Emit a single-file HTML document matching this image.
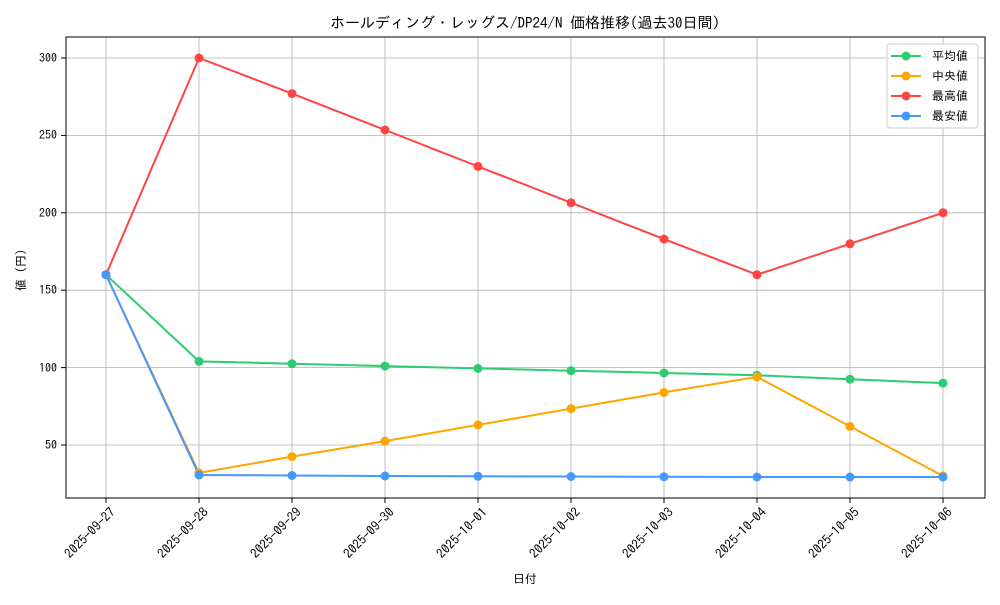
<!DOCTYPE html>
<html><head><meta charset="utf-8"><style>
body{margin:0;background:#fff}
text{font-family:"IPAGothic","Noto Sans CJK JP","Liberation Sans",sans-serif;fill:#000}
</style></head><body>
<svg width="1000" height="600" xmlns="http://www.w3.org/2000/svg">
<rect width="1000" height="600" fill="#fff"/>
<g stroke="#b0b0b0" stroke-width="0.8">
<line x1="106" y1="37" x2="106" y2="498"/><line x1="199" y1="37" x2="199" y2="498"/><line x1="292" y1="37" x2="292" y2="498"/><line x1="385" y1="37" x2="385" y2="498"/><line x1="478" y1="37" x2="478" y2="498"/><line x1="571" y1="37" x2="571" y2="498"/><line x1="664" y1="37" x2="664" y2="498"/><line x1="757" y1="37" x2="757" y2="498"/><line x1="850" y1="37" x2="850" y2="498"/><line x1="943" y1="37" x2="943" y2="498"/>
<line x1="66" y1="445" x2="985" y2="445"/><line x1="66" y1="367.6" x2="985" y2="367.6"/><line x1="66" y1="290.2" x2="985" y2="290.2"/><line x1="66" y1="212.8" x2="985" y2="212.8"/><line x1="66" y1="135.4" x2="985" y2="135.4"/><line x1="66" y1="58" x2="985" y2="58"/>
</g>
<rect x="66" y="37" width="919" height="461" fill="none" stroke="#000" stroke-width="1"/>
<g stroke="#000"><line x1="61" y1="445" x2="66" y2="445"/><line x1="61" y1="367.6" x2="66" y2="367.6"/><line x1="61" y1="290.2" x2="66" y2="290.2"/><line x1="61" y1="212.8" x2="66" y2="212.8"/><line x1="61" y1="135.4" x2="66" y2="135.4"/><line x1="61" y1="58" x2="66" y2="58"/>
<line x1="106" y1="498" x2="106" y2="503"/><line x1="199" y1="498" x2="199" y2="503"/><line x1="292" y1="498" x2="292" y2="503"/><line x1="385" y1="498" x2="385" y2="503"/><line x1="478" y1="498" x2="478" y2="503"/><line x1="571" y1="498" x2="571" y2="503"/><line x1="664" y1="498" x2="664" y2="503"/><line x1="757" y1="498" x2="757" y2="503"/><line x1="850" y1="498" x2="850" y2="503"/><line x1="943" y1="498" x2="943" y2="503"/></g>
<g font-size="12" text-anchor="end">
<text x="57" y="449">50</text><text x="57" y="372">100</text><text x="57" y="294">150</text><text x="57" y="217">200</text><text x="57" y="139">250</text><text x="57" y="62">300</text>
</g>
<g font-size="13" text-anchor="end">
<text transform="translate(116,513) rotate(-45)">2025-09-27</text>
<text transform="translate(209,513) rotate(-45)">2025-09-28</text>
<text transform="translate(302,513) rotate(-45)">2025-09-29</text>
<text transform="translate(395,513) rotate(-45)">2025-09-30</text>
<text transform="translate(488,513) rotate(-45)">2025-10-01</text>
<text transform="translate(581,513) rotate(-45)">2025-10-02</text>
<text transform="translate(674,513) rotate(-45)">2025-10-03</text>
<text transform="translate(767,513) rotate(-45)">2025-10-04</text>
<text transform="translate(860,513) rotate(-45)">2025-10-05</text>
<text transform="translate(953,513) rotate(-45)">2025-10-06</text>
</g>
<text x="525" y="583" font-size="12" text-anchor="middle">日付</text>
<text transform="translate(25,270) rotate(-90)" font-size="12" text-anchor="middle">値 (円)</text>
<text x="525" y="28" font-size="15" text-anchor="middle">ホールディング・レッグス/DP24/N 価格推移(過去30日間)</text>
<g fill="none" stroke-width="2">
<polyline stroke="#2ecc71" points="106,274.7 199,361.4 292,363.7 385,366.1 478,368.4 571,370.7 664,373 757,375.3 850,379.2 943,383.1"/>
<polyline stroke="#ffa500" points="106,274.7 199,472.9 292,456.6 385,441.1 478,424.9 571,408.6 664,392.4 757,376.9 850,426.4 943,476"/>
<polyline stroke="#ff4444" points="106,274.7 199,58 292,93.6 385,130 478,166.4 571,202.7 664,239.1 757,274.7 850,243.8 943,212.8"/>
<polyline stroke="#4499ff" points="106,274.7 199,475 292,475.5 385,476 478,476.3 571,476.5 664,476.8 757,477 850,477 943,477"/>
</g>
<g fill="#2ecc71"><circle cx="106" cy="274.7" r="4.5"/><circle cx="199" cy="361.4" r="4.5"/><circle cx="292" cy="363.7" r="4.5"/><circle cx="385" cy="366.1" r="4.5"/><circle cx="478" cy="368.4" r="4.5"/><circle cx="571" cy="370.7" r="4.5"/><circle cx="664" cy="373" r="4.5"/><circle cx="757" cy="375.3" r="4.5"/><circle cx="850" cy="379.2" r="4.5"/><circle cx="943" cy="383.1" r="4.5"/></g>
<g fill="#ffa500"><circle cx="106" cy="274.7" r="4.5"/><circle cx="199" cy="472.9" r="4.5"/><circle cx="292" cy="456.6" r="4.5"/><circle cx="385" cy="441.1" r="4.5"/><circle cx="478" cy="424.9" r="4.5"/><circle cx="571" cy="408.6" r="4.5"/><circle cx="664" cy="392.4" r="4.5"/><circle cx="757" cy="376.9" r="4.5"/><circle cx="850" cy="426.4" r="4.5"/><circle cx="943" cy="476" r="4.5"/></g>
<g fill="#ff4444"><circle cx="106" cy="274.7" r="4.5"/><circle cx="199" cy="58" r="4.5"/><circle cx="292" cy="93.6" r="4.5"/><circle cx="385" cy="130" r="4.5"/><circle cx="478" cy="166.4" r="4.5"/><circle cx="571" cy="202.7" r="4.5"/><circle cx="664" cy="239.1" r="4.5"/><circle cx="757" cy="274.7" r="4.5"/><circle cx="850" cy="243.8" r="4.5"/><circle cx="943" cy="212.8" r="4.5"/></g>
<g fill="#4499ff"><circle cx="106" cy="274.7" r="4.5"/><circle cx="199" cy="475" r="4.5"/><circle cx="292" cy="475.5" r="4.5"/><circle cx="385" cy="476" r="4.5"/><circle cx="478" cy="476.3" r="4.5"/><circle cx="571" cy="476.5" r="4.5"/><circle cx="664" cy="476.8" r="4.5"/><circle cx="757" cy="477" r="4.5"/><circle cx="850" cy="477" r="4.5"/><circle cx="943" cy="477" r="4.5"/></g>
<rect x="887" y="44" width="91" height="84" rx="3" fill="#fff" fill-opacity="0.8" stroke="#ccc"/>
<g stroke-width="2">
<line x1="891" y1="56" x2="921" y2="56" stroke="#2ecc71"/><circle cx="906" cy="56" r="4.5" fill="#2ecc71"/>
<line x1="891" y1="76" x2="921" y2="76" stroke="#ffa500"/><circle cx="906" cy="76" r="4.5" fill="#ffa500"/>
<line x1="891" y1="96" x2="921" y2="96" stroke="#ff4444"/><circle cx="906" cy="96" r="4.5" fill="#ff4444"/>
<line x1="891" y1="116" x2="921" y2="116" stroke="#4499ff"/><circle cx="906" cy="116" r="4.5" fill="#4499ff"/>
</g>
<g font-size="12"><text x="932" y="60">平均値</text><text x="932" y="80">中央値</text><text x="932" y="100">最高値</text><text x="932" y="120">最安値</text></g>
</svg>
</body></html>
